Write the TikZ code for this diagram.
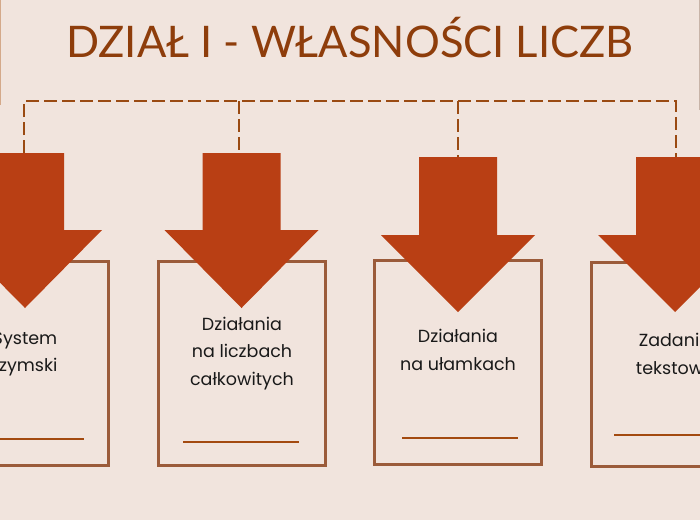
\documentclass[tikz,border=0pt]{standalone}
\usepackage{fontspec}
\setmainfont{Poppins}
\newfontfamily\titlefont{Lato}
\definecolor{bg}{HTML}{F1E4DD}
\definecolor{titlec}{HTML}{8E3D0B}
\definecolor{arrowc}{HTML}{B93F14}
\definecolor{boxc}{HTML}{9B5B3A}
\definecolor{linec}{HTML}{A34A10}
\definecolor{dashc}{HTML}{9A4A12}
\definecolor{edgel}{HTML}{D4A98A}
\definecolor{edger}{HTML}{C8B4A8}
\tikzset{
  cardbox/.style={draw=boxc, line width=3pt, fill=none, minimum width=167pt, minimum height=204pt, inner sep=0pt},
  bigarrow/.style={fill=arrowc, draw=none},
  dashline/.style={draw=dashc, line width=2.5pt, dash pattern=on 13pt off 5pt},
  underl/.style={draw=linec, line width=2.2pt},
  cardtext/.style={align=center, text=black!90, font=\fontsize{17.5}{27.8}\selectfont},
}
\newcommand{\downarrowshape}[4]{% center x, top y, head y, tip y
  \fill[bigarrow] (#1-39,#2) -- (#1+39,#2) -- (#1+39,#3) -- (#1+77,#3) -- (#1,#4) -- (#1-77,#3) -- (#1-39,#3) -- cycle;
}
\begin{document}
\begin{tikzpicture}[x=1pt,y=-1pt]
\useasboundingbox (0,0) rectangle (700,520);
\clip (0,0) rectangle (700,520);
\fill[bg] (0,0) rectangle (700,520);
% edge lines
\draw[edgel, line width=1.5pt] (0.5,0) -- (0.5,105);
\draw[edger, line width=1.5pt] (699.3,0) -- (699.3,110);
% title
\node[text=titlec, font=\titlefont\fontsize{43.5}{43.5}\selectfont, anchor=base] (title) at (350,57) {DZIAŁ I - WŁASNOŚCI LICZB};
% boxes
\node[cardbox] (box1) at (25,363.5) {};
\node[cardbox] (box2) at (242,363.5) {};
\node[cardbox] (box3) at (458,362) {};
\node[cardbox] (box4) at (675,364.5) {};
% underlines
\draw[underl] (-34,439) -- (84,439);
\draw[underl] (183,442) -- (299,442);
\draw[underl] (402,438) -- (518,438);
\draw[underl] (614,435) -- (736,435);
% texts
\node[cardtext, anchor=center] (t1) at (25,354) {System\\rzymski};
\node[cardtext, anchor=center] (t2) at (242,353.5) {Działania\\na liczbach\\całkowitych};
\node[cardtext, anchor=center] (t3) at (458,350) {Działania\\na ułamkach};
\node[cardtext, anchor=center] (t4) at (675,354) {Zadania\\tekstowe};
% arrows
\downarrowshape{25}{153}{230}{308}
\downarrowshape{241.5}{153}{230}{308}
\downarrowshape{458}{157}{235}{312}
\downarrowshape{675}{157}{235}{312}
\coordinate (a1) at (24,153);
\coordinate (a2) at (239,153);
\coordinate (a3) at (458,157);
\coordinate (a4) at (676,157);
\coordinate (b1) at (24,101);
\coordinate (b2) at (239,101);
\coordinate (b3) at (458,101);
\coordinate (b4) at (676,101);
% dashed connectors
\draw[dashline] (a1) -- (b1) -- (b4) -- (a4);
\draw[dashline] (b2) -- (a2);
\draw[dashline] (b3) -- (a3);
\end{tikzpicture}
\end{document}
